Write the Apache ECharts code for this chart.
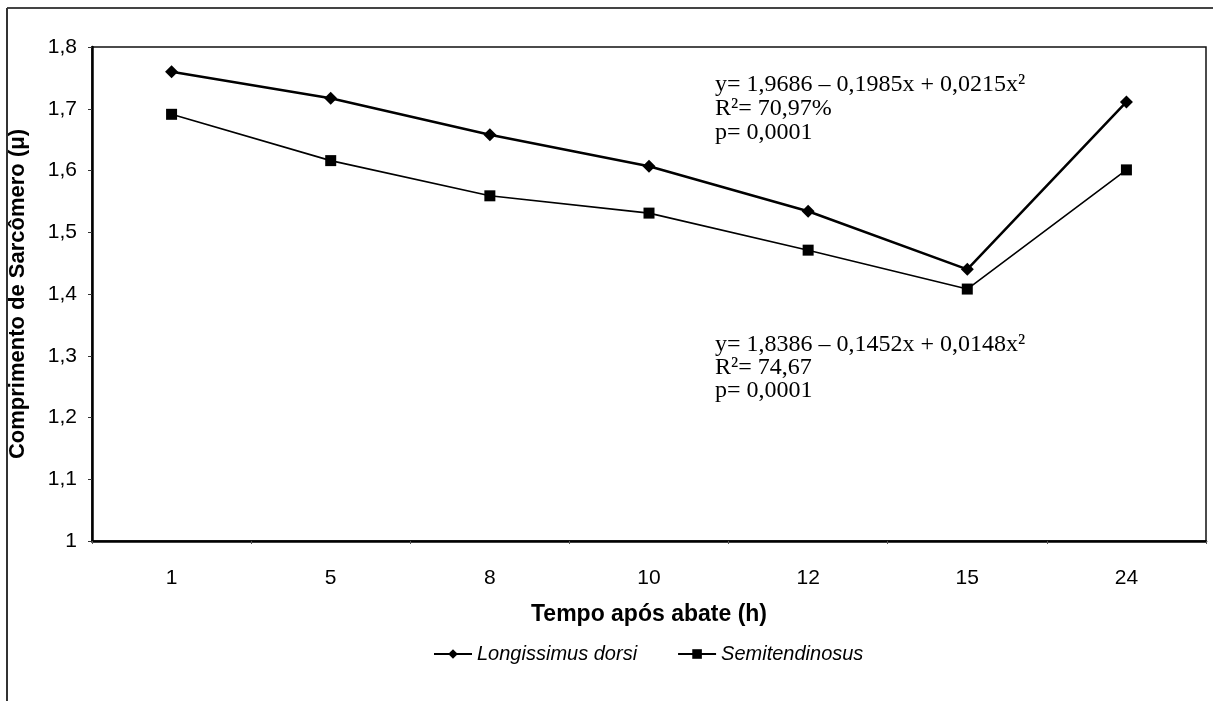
<!DOCTYPE html>
<html>
<head>
<meta charset="utf-8">
<script src="https://cdn.jsdelivr.net/npm/echarts@6/dist/echarts.min.js"></script>
<style>
  html, body { margin: 0; padding: 0; background: #fff; }
  #main { width: 1213px; height: 701px; }
</style>
</head>
<body>
<div id="main"></div>
<script>
// tempo apos abate (h)
var horas = ['1', '5', '8', '10', '12', '15', '24'];
var longissimus = [1.76, 1.717, 1.658, 1.607, 1.534, 1.44, 1.711];
var semitendinosus = [1.691, 1.616, 1.559, 1.531, 1.471, 1.408, 1.601];

var eqLongissimus = ['y= 1,9686 – 0,1985x + 0,0215x²', 'R²= 70,97%', 'p= 0,0001'];
var eqSemitendinosus = ['y= 1,8386 – 0,1452x + 0,0148x²', 'R²= 74,67', 'p= 0,0001'];

var chart = echarts.init(document.getElementById('main'));

var serif = '"Liberation Serif", "Times New Roman", serif';
var sans = '"Liberation Sans", Arial, sans-serif';

var option = {
    backgroundColor: '#fff',
    animation: false,
    color: ['#000', '#000'],
    grid: {
        left: 92,
        right: 7,
        top: 47,
        bottom: 160,
        outerBoundsMode: 'none',
        show: true,
        borderColor: '#111',
        borderWidth: 1.5
    },
    legend: {
        top: 639,
        left: 428,
        itemWidth: 38,
        itemHeight: 12,
        itemGap: 40,
        textStyle: {
            fontFamily: sans,
            fontStyle: 'italic',
            fontSize: 20,
            color: '#000'
        },
        data: ['Longissimus dorsi', 'Semitendinosus']
    },
    xAxis: {
        type: 'category',
        boundaryGap: true,
        data: horas,
        name: 'Tempo após abate (h)',
        nameLocation: 'middle',
        nameGap: 62,
        nameTextStyle: {
            fontFamily: sans,
            fontWeight: 'bold',
            fontSize: 23,
            color: '#000'
        },
        axisLine: { lineStyle: { color: '#000', width: 2.5 } },
        axisTick: { show: true, length: 3, lineStyle: { color: '#555' } },
        axisLabel: {
            margin: 27,
            fontFamily: sans,
            fontSize: 21,
            color: '#000'
        },
        splitLine: { show: false }
    },
    yAxis: {
        type: 'value',
        min: 1,
        max: 1.8,
        interval: 0.1,
        name: 'Comprimento de Sarcômero (μ)',
        nameLocation: 'middle',
        nameGap: 63,
        nameTextStyle: {
            fontFamily: sans,
            fontWeight: 'bold',
            fontSize: 22,
            color: '#000'
        },
        axisLine: { show: true, lineStyle: { color: '#000', width: 2.5 } },
        axisTick: { show: true, length: 4, lineStyle: { color: '#333' } },
        axisLabel: {
            margin: 15,
            fontFamily: sans,
            fontSize: 21,
            color: '#000',
            formatter: function (v) {
                return String(+v.toFixed(1)).replace('.', ',');
            }
        },
        splitLine: { show: false }
    },
    series: [
        {
            name: 'Longissimus dorsi',
            type: 'line',
            data: longissimus,
            symbol: 'diamond',
            symbolSize: 13,
            lineStyle: { color: '#000', width: 2.5 },
            itemStyle: { color: '#000' }
        },
        {
            name: 'Semitendinosus',
            type: 'line',
            data: semitendinosus,
            symbol: 'rect',
            symbolSize: 11,
            lineStyle: { color: '#000', width: 1.6 },
            itemStyle: { color: '#000' }
        }
    ],
    graphic: [
        // moldura externa
        { type: 'line', shape: { x1: 7, y1: 8, x2: 1213, y2: 8 }, style: { stroke: '#444', lineWidth: 2 } },
        { type: 'line', shape: { x1: 7, y1: 8, x2: 7, y2: 701 }, style: { stroke: '#333', lineWidth: 2 } },
        {
            type: 'text', left: 715, top: 73,
            style: { text: eqLongissimus.join('\n'), fontFamily: serif, fontSize: 24, lineHeight: 24, fill: '#000' }
        },
        {
            type: 'text', left: 715, top: 333,
            style: { text: eqSemitendinosus.join('\n'), fontFamily: serif, fontSize: 24, lineHeight: 23, fill: '#000' }
        }
    ]
};

chart.setOption(option);
</script>
</body>
</html>
